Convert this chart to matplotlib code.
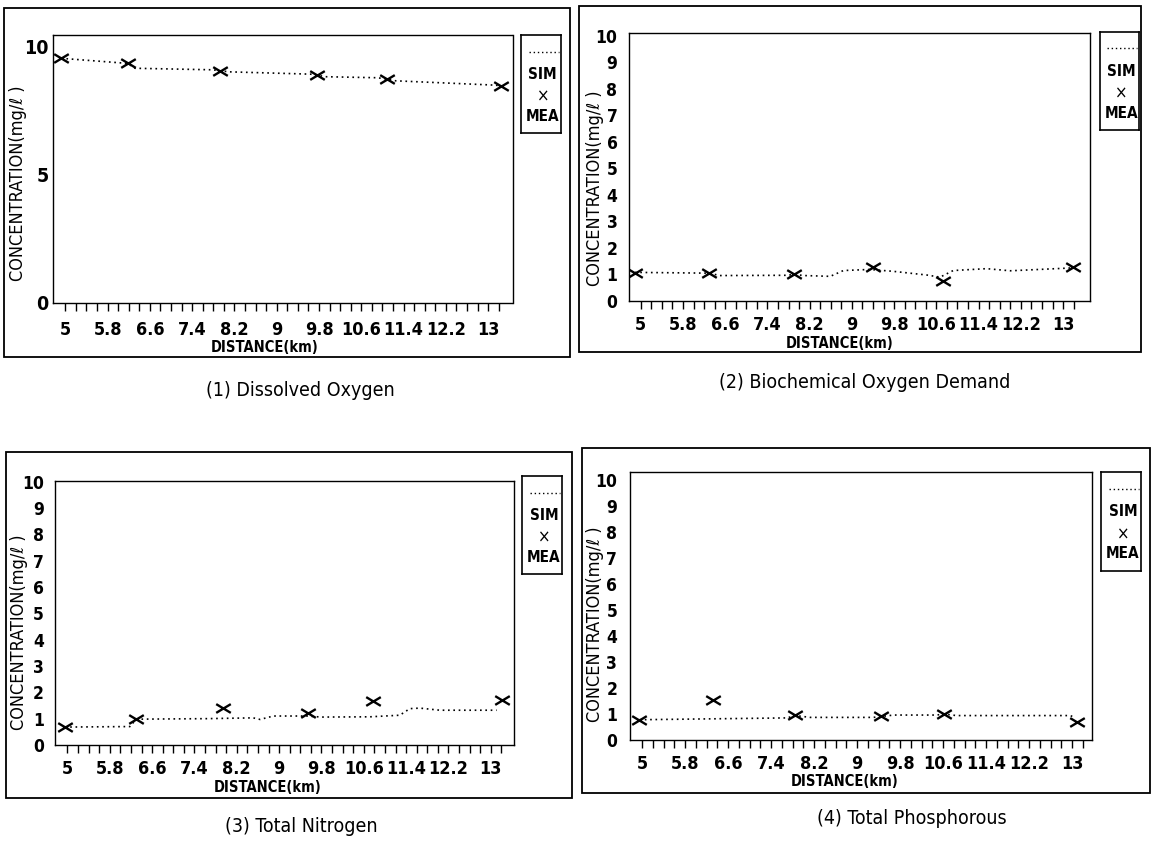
import numpy as np
import matplotlib
matplotlib.use('Agg')
import matplotlib.pyplot as plt
from matplotlib.path import Path
from matplotlib.patches import Rectangle
from matplotlib.lines import Line2D

plt.rcParams['font.family'] = ['DejaVu Sans']
plt.rcParams['font.stretch'] = 'condensed'

W, H = 1153, 843

# 軸の目盛り
x_ticks = [5, 5.8, 6.6, 7.4, 8.2, 9, 9.8, 10.6, 11.4, 12.2, 13]
x_tick_labels = ['5', '5.8', '6.6', '7.4', '8.2', '9', '9.8', '10.6', '11.4', '12.2', '13']
x_minor = np.arange(5.0, 13.21, 0.2)

# (1) Dissolved Oxygen
do_mea_x = [4.92, 6.18, 7.93, 9.77, 11.08, 13.25]
do_mea_y = [9.55, 9.35, 9.06, 8.89, 8.74, 8.46]
do_sim_x = [4.92, 6.18, 6.32, 7.79, 7.93, 8.11, 9.64, 9.77, 9.92, 10.90, 11.08, 11.25, 13.14, 13.25]
do_sim_y = [9.55, 9.35, 9.16, 9.10, 9.06, 9.02, 8.93, 8.89, 8.83, 8.79, 8.74, 8.67, 8.50, 8.46]

# (2) Biochemical Oxygen Demand
bod_mea_x = [4.89, 6.29, 7.90, 9.40, 10.73, 13.19]
bod_mea_y = [1.05, 1.04, 1.00, 1.28, 0.74, 1.28]
bod_sim_x = [4.89, 6.30, 6.50, 7.76, 7.90, 8.10, 8.59, 8.84, 9.34, 9.78, 10.42, 10.67, 10.92, 11.55, 12.0, 13.19]
bod_sim_y = [1.08, 1.05, 0.96, 0.97, 1.00, 0.96, 0.93, 1.15, 1.19, 1.12, 0.98, 0.90, 1.15, 1.22, 1.14, 1.25]

# (3) Total Nitrogen
tn_mea_x = [4.95, 6.30, 7.93, 9.55, 10.78, 13.21]
tn_mea_y = [0.68, 1.00, 1.42, 1.20, 1.66, 1.72]
tn_sim_x = [4.95, 6.18, 6.30, 7.63, 8.51, 8.64, 8.89, 9.52, 9.80, 10.72, 11.28, 11.47, 11.66, 12.04, 13.11]
tn_sim_y = [0.68, 0.70, 0.98, 1.00, 1.03, 0.97, 1.10, 1.10, 1.06, 1.07, 1.13, 1.38, 1.40, 1.32, 1.32]

# (4) Total Phosphorous
tp_mea_x = [4.95, 6.32, 7.85, 9.44, 10.61, 13.10]
tp_mea_y = [0.77, 1.52, 0.96, 0.91, 1.00, 0.70]
tp_sim_x = [4.95, 7.69, 7.85, 8.13, 9.30, 9.68, 10.48, 10.61, 10.85, 12.96, 13.06]
tp_sim_y = [0.78, 0.85, 0.94, 0.87, 0.87, 0.96, 0.96, 1.00, 0.94, 0.94, 0.87]

captions = ['(1) Dissolved Oxygen', '(2) Biochemical Oxygen Demand',
            '(3) Total Nitrogen', '(4) Total Phosphorous']

# パネルの配置（ピクセル）
panels = [
    dict(sim=(do_sim_x, do_sim_y), mea=(do_mea_x, do_mea_y), cap=captions[0],
         frame=(4, 8, 570, 357), axes=(53, 35, 512.5, 302.7), leg=(521, 35, 560.5, 133),
         xlim=(4.767, 13.46), ylim=(0, 10.46), yticks=[0, 5, 10], yfs=14, ypad=3,
         xpad=7, xlab=(265, 348), ylab=(18.5, 183), capxy=(300, 390)),
    dict(sim=(bod_sim_x, bod_sim_y), mea=(bod_mea_x, bod_mea_y), cap=captions[1],
         frame=(579, 6, 1141, 352), axes=(628.6, 33.3, 1090, 301), leg=(1099.6, 31.7, 1139, 130),
         xlim=(4.77, 13.51), ylim=(0, 10.1), yticks=list(range(11)), yfs=12.5, ypad=8,
         xpad=5, xlab=(840, 343), ylab=(594.5, 188), capxy=(865, 383)),
    dict(sim=(tn_sim_x, tn_sim_y), mea=(tn_mea_x, tn_mea_y), cap=captions[2],
         frame=(5.5, 451.7, 571.6, 798), axes=(54.8, 481, 513.5, 745), leg=(521.6, 476, 562.3, 574),
         xlim=(4.76, 13.43), ylim=(0, 10.02), yticks=list(range(11)), yfs=12.5, ypad=8,
         xpad=5, xlab=(268, 787), ylab=(19.5, 632), capxy=(301, 827)),
    dict(sim=(tp_sim_x, tp_sim_y), mea=(tp_mea_x, tp_mea_y), cap=captions[3],
         frame=(581.7, 448.3, 1150, 793), axes=(629.8, 472.3, 1092, 740), leg=(1101, 472.3, 1141, 570.7),
         xlim=(4.77, 13.37), ylim=(0, 10.3), yticks=list(range(11)), yfs=12.5, ypad=9,
         xpad=5, xlab=(845, 781), ylab=(594.5, 624), capxy=(912, 818)),
]

xmark = Path([(-1, -0.6), (1, 0.6), (-1, 0.6), (1, -0.6)],
             [Path.MOVETO, Path.LINETO, Path.MOVETO, Path.LINETO])


def box(b):
    x0, y0, x1, y1 = b
    return [x0 / W, 1 - y1 / H, (x1 - x0) / W, (y1 - y0) / H]


def ftext(fig, x, y, s, **kw):
    fig.text(x / W, 1 - y / H, s, ha='center', va='center', **kw)


fig = plt.figure(figsize=(W / 100, H / 100), dpi=100)

for p in panels:
    # 外枠
    fr = box(p['frame'])
    fig.add_artist(Rectangle((fr[0], fr[1]), fr[2], fr[3], transform=fig.transFigure,
                             fill=False, ec='black', lw=1.3))

    ax = fig.add_axes(box(p['axes']))
    sx, sy = p['sim']
    mx, my = p['mea']
    ax.plot(sx, sy, color='black', lw=1.2, linestyle=(0, (1, 2.2)))
    ax.plot(mx, my, linestyle='none', marker=xmark, markersize=10.5, mew=1.7,
            color='black')
    ax.set_xlim(*p['xlim'])
    ax.set_ylim(*p['ylim'])
    ax.set_xticks(x_ticks)
    ax.set_xticklabels(x_tick_labels, fontsize=13, fontweight='bold')
    ax.set_xticks(x_minor, minor=True)
    ax.tick_params(axis='x', which='both', direction='out', length=6, width=1.0,
                   pad=p['xpad'])
    ax.set_yticks(p['yticks'])
    ax.set_yticklabels([str(v) for v in p['yticks']], fontsize=p['yfs'],
                       fontweight='bold')
    ax.tick_params(axis='y', length=0, pad=p['ypad'])
    for s in ax.spines.values():
        s.set_linewidth(1.0)

    ftext(fig, *p['xlab'], 'DISTANCE(km)', fontsize=10.5, fontweight='bold')
    ftext(fig, *p['ylab'], 'CONCENTRATION(mg/ℓ )', fontsize=13, rotation=90)
    ftext(fig, *p['capxy'], p['cap'], fontsize=14)

    # 凡例
    lg = fig.add_axes(box(p['leg']))
    lg.set_xlim(0, 1)
    lg.set_ylim(0, 1)
    lg.set_xticks([])
    lg.set_yticks([])
    for s in lg.spines.values():
        s.set_linewidth(1.2)
    lg.add_line(Line2D([0.2, 0.95], [0.83, 0.83], color='black', lw=1.0,
                       linestyle=(0, (1, 2))))
    lg.text(0.55, 0.6, 'SIM', ha='center', va='center', fontsize=11, fontweight='bold')
    lg.text(0.55, 0.37, '×', ha='center', va='center', fontsize=12)
    lg.text(0.55, 0.17, 'MEA', ha='center', va='center', fontsize=11, fontweight='bold')

fig.savefig('out.png', dpi=100)
